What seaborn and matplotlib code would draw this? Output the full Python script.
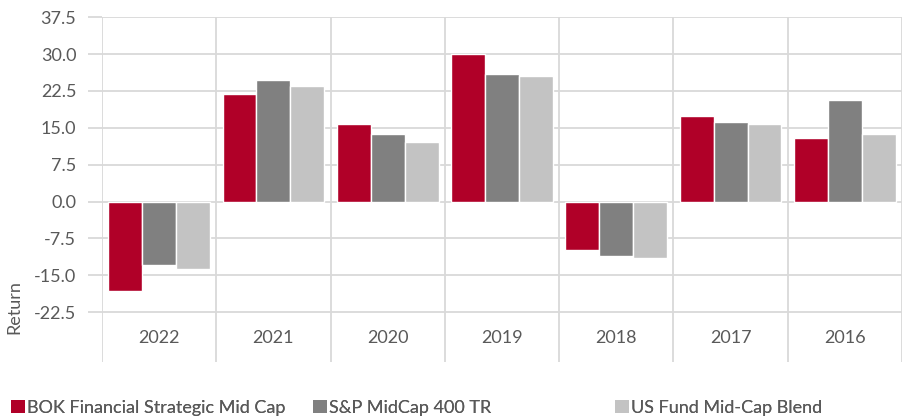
import matplotlib
matplotlib.use("Agg")
import matplotlib.pyplot as plt
from matplotlib.patches import Patch
import seaborn as sns
import pandas as pd

years = ["2022", "2021", "2020", "2019", "2018", "2017", "2016"]
series_names = ["BOK Financial Strategic Mid Cap", "S&P MidCap 400 TR", "US Fund Mid-Cap Blend"]
bok = [-18.3, 21.9, 15.8, 30.1, -9.8, 17.5, 13.0]
sp400 = [-13.0, 24.8, 13.8, 26.0, -11.1, 16.2, 20.7]
fund = [-13.8, 23.6, 12.2, 25.6, -11.5, 15.8, 13.8]
colors = ["#B00028", "#808080", "#C3C3C3"]
ytick_vals = [-22.5, -15.0, -7.5, 0.0, 7.5, 15.0, 22.5, 30.0, 37.5]
ytick_labels = ["-22.5", "-15.0", "-7.5", "0.0", "7.5", "15.0", "22.5", "30.0", "37.5"]

df = pd.DataFrame({
    "Year": years * 3,
    "Series": [series_names[0]] * 7 + [series_names[1]] * 7 + [series_names[2]] * 7,
    "Return": bok + sp400 + fund,
})

sns.set_style("white")
plt.rcParams["font.family"] = ["Lato", "DejaVu Sans"]
plt.rcParams["axes.unicode_minus"] = False
txt = "#595959"
grid = "#D9D9D9"
fs = 13

fig = plt.figure(figsize=(9.10, 4.17), dpi=100)
ax = fig.add_axes([102 / 910, 1 - 361.7 / 417, 800 / 910, (361.7 - 17.3) / 417])

sns.barplot(data=df, x="Year", y="Return", hue="Series", order=years,
            hue_order=series_names, palette=colors, width=0.89,
            edgecolor="white", linewidth=1.0, saturation=1, ax=ax, legend=False,
            zorder=3)

ax.set_xlim(-0.5, 6.5)
ax.set_ylim(-32.6, 37.5)
ax.set_yticks(ytick_vals)
ax.set_yticklabels(ytick_labels)
ax.set_xticks(range(len(years)))
ax.set_xticklabels(years)
ax.set_xticks([i - 0.5 for i in range(len(years) + 1)], minor=True)

for s in ax.spines.values():
    s.set_visible(False)

ax.grid(False)
ax.yaxis.grid(True, color=grid, linewidth=1.3, zorder=0)
ax.xaxis.grid(True, which="minor", color=grid, linewidth=1.3, zorder=0)
ax.set_axisbelow(True)

ax.tick_params(axis="y", length=10, width=1.3, color=grid, pad=8.5,
               labelsize=fs, labelcolor=txt, direction="out", left=True)
ax.tick_params(axis="x", which="major", length=0, pad=-22.5, labelsize=fs, labelcolor=txt)
ax.tick_params(axis="x", which="minor", length=0)

ax.set_xlabel("")
ax.set_ylabel("Return", fontsize=fs, color=txt)
ax.yaxis.set_label_coords(-80 / 800, (361.7 - 306.7) / (361.7 - 17.3))

handle_x = [11, 313, 615]
for name, col, hx in zip(series_names, colors, handle_x):
    leg = fig.legend(handles=[Patch(facecolor=col, edgecolor="none")], labels=[name],
                     loc="center left", bbox_to_anchor=(hx / 910, 1 - 408 / 417),
                     frameon=False, borderpad=0, borderaxespad=0,
                     handlelength=0.78, handleheight=0.72, handletextpad=0.12,
                     fontsize=fs, labelcolor=txt)
    fig.add_artist(leg)

fig.savefig("out.png", dpi=100)
